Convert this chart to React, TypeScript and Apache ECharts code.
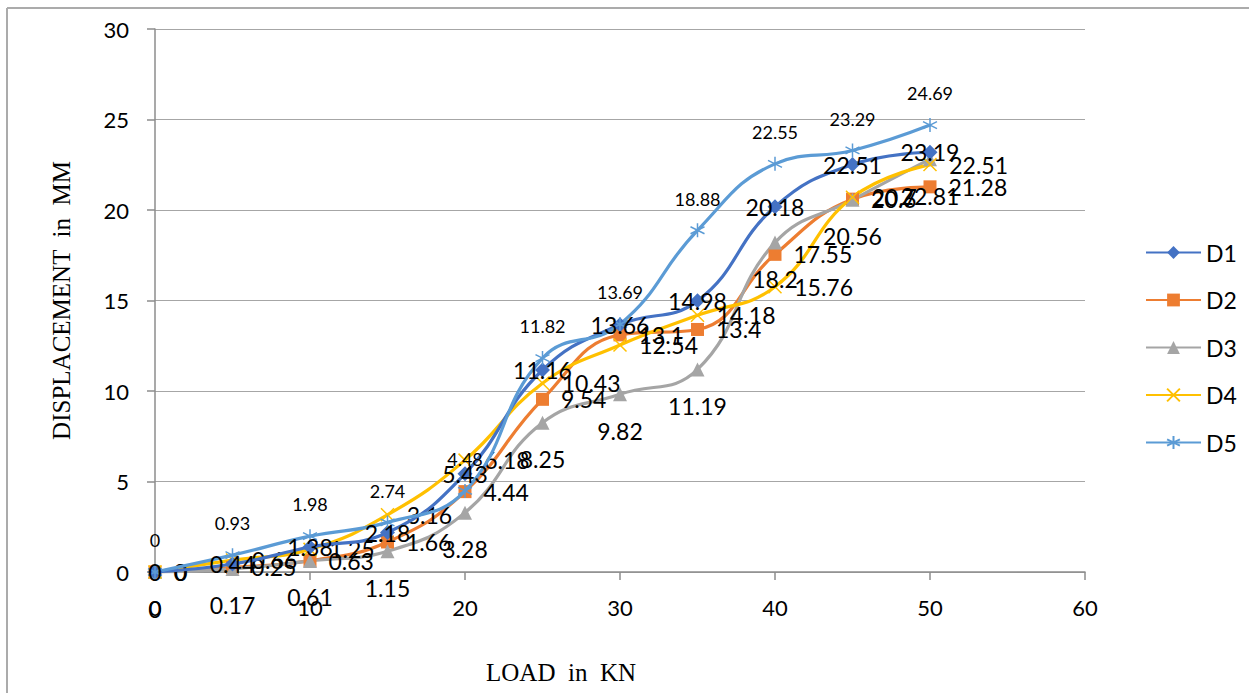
import React, { useEffect, useRef } from "react";
import * as echarts from "echarts";

const loads = [0, 5, 10, 15, 20, 25, 30, 35, 40, 45, 50];
const d1 = [0, 0.44, 1.38, 2.18, 5.43, 11.16, 13.66, 14.98, 20.18, 22.51, 23.19];
const d2 = [0, 0.25, 0.63, 1.66, 4.44, 9.54, 13.1, 13.4, 17.55, 20.6, 21.28];
const d3 = [0, 0.17, 0.61, 1.15, 3.28, 8.25, 9.82, 11.19, 18.2, 20.56, 22.81];
const d4 = [0, 0.66, 1.25, 3.16, 6.18, 10.43, 12.54, 14.18, 15.76, 20.7, 22.51];
const d5 = [0, 0.93, 1.98, 2.74, 4.48, 11.82, 13.69, 18.88, 22.55, 23.29, 24.69];
const seriesNames = ["D1", "D2", "D3", "D4", "D5"];

const X_SYMBOL = "path://M0,0L10,10M10,0L0,10";
const STAR_SYMBOL = "path://M5,0L5,10M0.7,2.5L9.3,7.5M0.7,7.5L9.3,2.5";

export default function App() {
  const ref = useRef<HTMLDivElement>(null);
  useEffect(() => {
    document.body.style.margin = "0";
    const chart = echarts.init(ref.current!, null, { renderer: "svg" });
    const pairs = (ys: number[]) => loads.map((x, i) => [x, ys[i]]);
    const labelFont = { fontFamily: "Lato", color: "#000" };
    const fmt = (p: any) => String(p.value[1]);
    const smooth = 0.45;

    const option: any = {
      animation: false,
      backgroundColor: "#fff",
      grid: { left: 155, right: 164, top: 29, bottom: 121 },
      legend: {
        orient: "vertical",
        left: 1140,
        top: 236,
        itemWidth: 55,
        itemHeight: 16,
        itemGap: 24.5,
        textStyle: { fontFamily: "Lato", fontSize: 23, color: "#000" },
        data: seriesNames,
      },
      xAxis: {
        type: "value",
        min: 0,
        max: 60,
        interval: 10,
        axisLine: { show: true, onZero: false, lineStyle: { color: "#8c8c8c", width: 1.5 } },
        axisTick: { show: true, length: 8, lineStyle: { color: "#8c8c8c", width: 1.5 } },
        axisLabel: { margin: 24, fontFamily: "Lato", fontSize: 22, color: "#000" },
        splitLine: { show: false },
      },
      yAxis: {
        type: "value",
        min: 0,
        max: 30,
        interval: 5,
        name: "DISPLACEMENT  in  MM",
        nameLocation: "middle",
        nameGap: 81,
        nameTextStyle: { fontFamily: "Liberation Serif", fontSize: 25, color: "#000" },
        axisLine: { show: true, lineStyle: { color: "#8c8c8c", width: 1.5 } },
        axisTick: { show: true, length: 8, lineStyle: { color: "#8c8c8c", width: 1.5 } },
        axisLabel: { margin: 26, fontFamily: "Lato", fontSize: 22, color: "#000" },
        splitLine: { show: true, lineStyle: { color: "#a6a6a6", width: 1.2 } },
      },
      graphic: [
        {
          type: "line",
          shape: { x1: 7, y1: 8, x2: 1249, y2: 8 },
          style: { stroke: "#8f8f8f", lineWidth: 1.5 },
          silent: true,
        },
        {
          type: "line",
          shape: { x1: 7, y1: 8, x2: 7, y2: 693 },
          style: { stroke: "#ababab", lineWidth: 2 },
          silent: true,
        },
        {
          type: "text",
          x: 561,
          y: 672,
          style: {
            text: "LOAD  in  KN",
            font: "25px 'Liberation Serif'",
            fill: "#000",
            textAlign: "center",
            textVerticalAlign: "middle",
          },
          silent: true,
        },
      ],
      series: [
        {
          name: "D1",
          type: "line",
          data: pairs(d1),
          smooth,
          color: "#4472C4",
          symbol: "diamond",
          symbolSize: 15,
          lineStyle: { width: 3.2, color: "#4472C4" },
          itemStyle: { color: "#4472C4" },
          label: { show: true, position: "inside", fontSize: 23, formatter: fmt, ...labelFont },
          z: 3,
        },
        {
          name: "D2",
          type: "line",
          data: pairs(d2),
          smooth,
          color: "#ED7D31",
          symbol: "rect",
          symbolSize: 13,
          lineStyle: { width: 3.2, color: "#ED7D31" },
          itemStyle: { color: "#ED7D31" },
          label: { show: true, position: "right", distance: 12, fontSize: 23, formatter: fmt, ...labelFont },
          z: 2,
        },
        {
          name: "D3",
          type: "line",
          data: pairs(d3),
          smooth,
          color: "#A5A5A5",
          symbol: "triangle",
          symbolSize: 14,
          lineStyle: { width: 3.2, color: "#A5A5A5" },
          itemStyle: { color: "#A5A5A5" },
          label: { show: true, position: "bottom", distance: 18, fontSize: 23, formatter: fmt, ...labelFont },
          z: 2,
        },
        {
          name: "D4",
          type: "line",
          data: pairs(d4),
          smooth,
          color: "#FFC000",
          symbol: X_SYMBOL,
          symbolSize: 13,
          lineStyle: { width: 3.2, color: "#FFC000" },
          itemStyle: { color: "rgba(0,0,0,0)", borderColor: "#FFC000", borderWidth: 1.5 },
          label: { show: true, position: "right", distance: 12, fontSize: 23, formatter: fmt, ...labelFont },
          z: 2,
        },
        {
          name: "D5",
          type: "line",
          data: pairs(d5),
          smooth,
          color: "#5B9BD5",
          symbol: STAR_SYMBOL,
          symbolSize: 14,
          lineStyle: { width: 3.2, color: "#5B9BD5" },
          itemStyle: { color: "rgba(0,0,0,0)", borderColor: "#5B9BD5", borderWidth: 1.5 },
          label: { show: true, position: "top", distance: 15, fontSize: 18, formatter: fmt, ...labelFont },
          z: 3,
        },
      ],
    };
    chart.setOption(option);
    return () => chart.dispose();
  }, []);
  return <div ref={ref} style={{ width: 1249, height: 693 }} />;
}
